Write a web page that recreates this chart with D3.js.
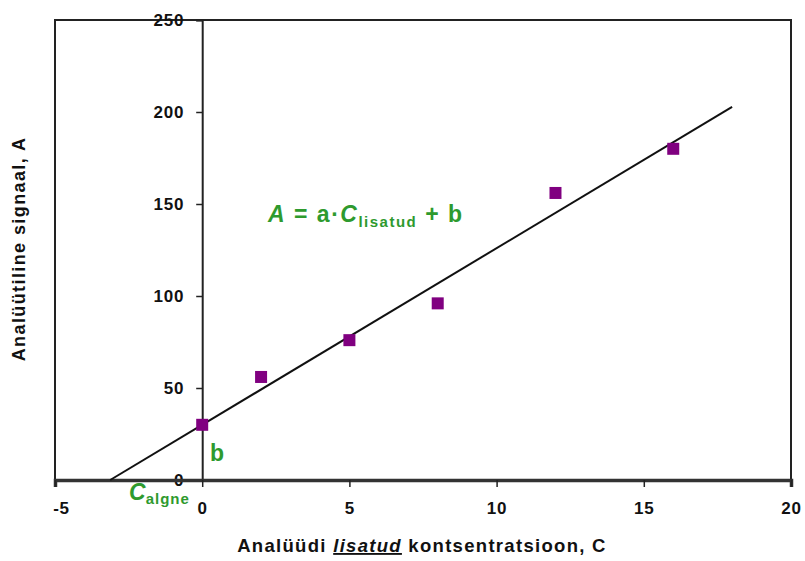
<!DOCTYPE html>
<html>
<head>
<meta charset="utf-8">
<script src="https://cdn.jsdelivr.net/npm/d3@7"></script>
<style>
  body { margin: 0; background: #fff; }
  svg { display: block; }
  text { font-family: "Liberation Sans", Arial, sans-serif; }
</style>
</head>
<body>
<script>
// ---- data ----
const addedConc = [0, 2, 5, 8, 12, 16];
const signal = [30, 56, 76, 96, 156, 180];
const fitLineX = [-3.125, 18];
const fitLineY = [0, 202.8];
const xTicks = [-5, 0, 5, 10, 15, 20];
const yTicks = [0, 50, 100, 150, 200, 250];

(function () {
const W = 805, H = 561;
const mLeft = 55, mRight = 791, mTop = 20, mBottom = 480;

const svg = d3.select("body").append("svg").attr("width", W).attr("height", H);

const x = d3.scaleLinear().domain([-5, 20]).range([mLeft, mRight]);
const y = d3.scaleLinear().domain([0, 250]).range([mBottom, mTop]);

const ink = "#111";
const green = "#2e9a2e";
const FF = "Liberation Sans, Arial, sans-serif";

// frame
svg.append("rect").attr("x", mLeft).attr("y", mTop)
  .attr("width", mRight - mLeft).attr("height", mBottom - mTop)
  .attr("fill", "none").attr("stroke", "#222").attr("stroke-width", 2);

// y axis at x = 0
const yAxis = svg.append("g").attr("transform", `translate(${x(0)},0)`)
  .call(d3.axisLeft(y).tickValues(yTicks).tickFormat(d => String(d)).tickSize(6).tickPadding(8));
yAxis.select(".domain").attr("stroke", "#222").attr("stroke-width", 2);
yAxis.selectAll(".tick line").attr("stroke", "#222").attr("stroke-width", 1.5);
yAxis.selectAll(".tick text").attr("font-size", 17).attr("font-weight", "bold")
  .attr("letter-spacing", 0.8)
  .attr("fill", ink).attr("font-family", FF)
  .attr("dy", "0.35em").attr("dx", "-4");

// x axis at y = 0
const xAxis = svg.append("g").attr("transform", `translate(0,${y(0)})`)
  .call(d3.axisBottom(x).tickValues(xTicks).tickFormat(d => String(d)).tickSize(7).tickPadding(14));
xAxis.select(".domain").attr("stroke", "#333").attr("stroke-width", 3.5);
xAxis.selectAll(".tick line").attr("stroke", "#222").attr("stroke-width", 1.5);
xAxis.selectAll(".tick text").attr("font-size", 17).attr("font-weight", "bold")
  .attr("letter-spacing", 0.8)
  .attr("fill", ink).attr("font-family", FF).attr("dy", "0.75em");
xAxis.selectAll(".tick").filter(d => d === -5).select("text").attr("dx", "6");

// fit line
svg.append("line")
  .attr("x1", x(fitLineX[0])).attr("y1", y(fitLineY[0]))
  .attr("x2", x(fitLineX[1])).attr("y2", y(fitLineY[1]))
  .attr("stroke", "#111").attr("stroke-width", 2);

// points
const s = 12;
svg.selectAll("rect.pt").data(addedConc).enter().append("rect")
  .attr("class", "pt")
  .attr("x", (d) => x(d) - s / 2)
  .attr("y", (d, i) => y(signal[i]) - s / 2)
  .attr("width", s).attr("height", s)
  .attr("fill", "#800080");

// axis titles
svg.append("text")
  .attr("transform", `translate(25,249) rotate(-90)`)
  .attr("text-anchor", "middle").attr("font-size", 18).attr("font-weight", "bold")
  .attr("letter-spacing", 1.4)
  .attr("fill", ink).text("Analüütiline signaal, A");

const xt = svg.append("text").attr("x", 422).attr("y", 552)
  .attr("text-anchor", "middle").attr("font-size", 18.5).attr("font-weight", "bold")
  .attr("letter-spacing", 1.3)
  .attr("fill", ink);
xt.append("tspan").text("Analüüdi ");
xt.append("tspan").attr("font-style", "italic").attr("text-decoration", "underline").text("lisatud");
xt.append("tspan").text(" kontsentratsioon, C");

// equation annotation
const eq = svg.append("text").attr("x", 268).attr("y", 222)
  .attr("font-size", 23).attr("font-weight", "bold").attr("fill", green)
  .attr("letter-spacing", 1.5);
eq.append("tspan").attr("font-style", "italic").text("A");
eq.append("tspan").text(" = a·");
eq.append("tspan").attr("font-style", "italic").text("C");
eq.append("tspan").attr("font-size", 15).attr("dy", 5).text("lisatud");
eq.append("tspan").attr("dy", -5).text(" + b");

// b label
svg.append("text").attr("x", 210).attr("y", 461)
  .attr("font-size", 23).attr("font-weight", "bold").attr("fill", green).text("b");

// C_algne label
const ca = svg.append("text").attr("x", 129).attr("y", 500)
  .attr("font-size", 23).attr("font-weight", "bold").attr("fill", green);
ca.append("tspan").attr("font-style", "italic").text("C");
ca.append("tspan").attr("font-size", 15).attr("dy", 4).attr("letter-spacing", 1).text("algne");
})();
</script>
</body>
</html>
